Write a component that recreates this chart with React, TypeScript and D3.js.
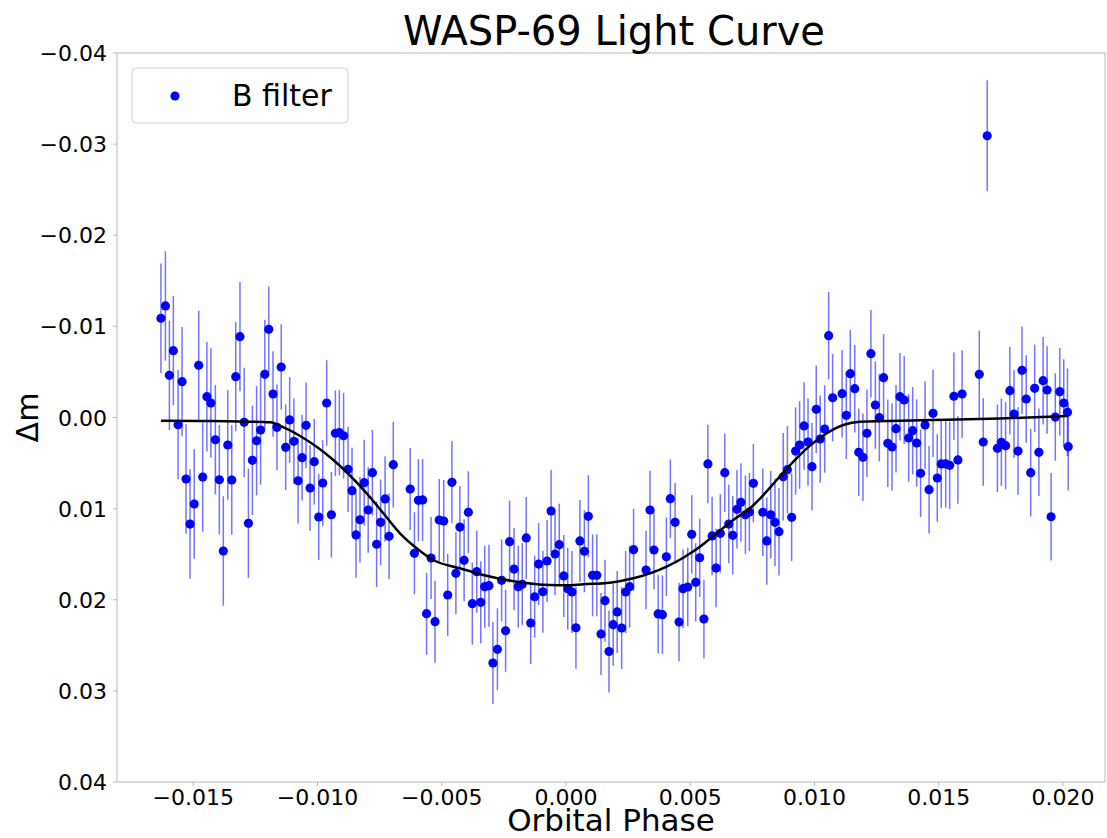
import React from "react";
import * as d3 from "d3";

// Observed points (orbital phase, Δm, 1σ error)
const phase = [
  -0.0163, -0.01612, -0.01596, -0.0158, -0.01561, -0.01545, -0.01529, -0.01513, -0.01496, -0.01478,
  -0.01462, -0.01445, -0.01429, -0.01411, -0.01395, -0.01379, -0.01361, -0.01345, -0.01329, -0.01312,
  -0.01295, -0.01278, -0.01262, -0.01245, -0.01229, -0.01212, -0.01196, -0.01179, -0.01163, -0.01146,
  -0.01128, -0.01112, -0.01095, -0.01078, -0.01062, -0.01046, -0.0103, -0.01013, -0.00995, -0.00979,
  -0.00963, -0.00944, -0.00928, -0.00912, -0.00895, -0.00877, -0.00861, -0.00845, -0.00829, -0.00812,
  -0.00796, -0.00779, -0.00762, -0.00746, -0.00728, -0.00712, -0.00695, -0.00627, -0.0061, -0.00594,
  -0.00577, -0.00561, -0.00543, -0.00527, -0.0051, -0.00492, -0.00476, -0.00459, -0.00443, -0.00427,
  -0.0041, -0.00393, -0.00377, -0.00359, -0.00343, -0.00327, -0.0031, -0.00294, -0.00276, -0.00259,
  -0.00243, -0.00227, -0.00209, -0.00192, -0.00176, -0.0016, -0.00142, -0.00126, -0.0011, -0.00093,
  -0.00076, -0.0006, -0.00044, -0.00027, -0.00009, 0.00007, 0.00024, 0.0004, 0.00056, 0.00074,
  0.0009, 0.00107, 0.00124, 0.00141, 0.00157, 0.00173, 0.0019, 0.00206, 0.00224, 0.0024,
  0.00256, 0.00272, 0.00322, 0.00338, 0.00354, 0.00371, 0.00388, 0.00404, 0.0042, 0.00439,
  0.00455, 0.00471, 0.0049, 0.00506, 0.00522, 0.00538, 0.00555, 0.00571, 0.00588, 0.00604,
  0.00621, 0.00639, 0.00655, 0.00671, 0.00688, 0.00704, 0.00722, 0.00738, 0.00754, 0.00792,
  0.00808, 0.00824, 0.00841, 0.00857, 0.00874, 0.00891, 0.00908, 0.00924, 0.0094, 0.00958,
  0.00974, 0.0099, 0.01007, 0.01023, 0.01041, 0.01057, 0.01073, 0.01111, 0.01128, 0.01144,
  0.01162, 0.01178, 0.01195, 0.01211, 0.01227, 0.01245, 0.01261, 0.01278, 0.01295, 0.01312,
  0.01328, 0.01344, 0.01361, 0.01379, 0.01395, 0.01411, 0.01427, 0.01445, 0.01461, 0.01477,
  0.01494, 0.0151, 0.01528, 0.01544, 0.01561, 0.01577, 0.01594, 0.01663, 0.01679, 0.01695,
  0.01736, 0.01752, 0.01769, 0.01786, 0.01803, 0.01819, 0.01835, 0.01852, 0.0187, 0.01886,
  0.01903, 0.0192, 0.01936, 0.01952, 0.01969, 0.01987, 0.02003, 0.02018, 0.02021,
];

const dm = [
  -0.01089, -0.01224, -0.00463, -0.00733, 0.00079, -0.00393, 0.00675, 0.01169, 0.00949, -0.00573,
  0.00653, -0.00228, -0.00159, 0.00244, 0.00683, 0.01465, 0.00302, 0.00686, -0.00448, -0.00887,
  0.00053, 0.01161, 0.0047, 0.00255, 0.00137, -0.00474, -0.00968, -0.00258, 0.00108, -0.00554,
  0.00327, 0.00027, 0.00261, 0.00694, 0.00441, 0.00086, 0.00774, 0.00485, 0.01092, 0.00719,
  -0.00159, 0.01067, 0.00173, 0.00167, 0.002, 0.00568, 0.00803, 0.01289, 0.01122, 0.00715,
  0.01015, 0.00606, 0.01391, 0.0115, 0.00894, 0.01304, 0.00518, 0.00785, 0.0149, 0.00909,
  0.00905, 0.02153, 0.01542, 0.02241, 0.01125, 0.01136, 0.01948, 0.00711, 0.0171, 0.01202,
  0.01567, 0.0104, 0.02043, 0.01692, 0.02028, 0.01857, 0.01846, 0.02694, 0.02544, 0.01787,
  0.0234, 0.01363, 0.01663, 0.01857, 0.0183, 0.01322, 0.02255, 0.01967, 0.01608, 0.01912,
  0.01575, 0.01026, 0.01498, 0.01396, 0.01739, 0.01879, 0.01915, 0.02307, 0.01355, 0.01468,
  0.01084, 0.01732, 0.01732, 0.02376, 0.0201, 0.02568, 0.02274, 0.02134, 0.0231, 0.01915,
  0.01857, 0.01451, 0.01674, 0.01015, 0.01454, 0.02156, 0.02164, 0.01528, 0.00891, 0.0115,
  0.02244, 0.01879, 0.0186, 0.01282, 0.01809, 0.01539, 0.02211, 0.0051, 0.013, 0.01652,
  0.01271, 0.00606, 0.01169, 0.01293, 0.01007, 0.00931, 0.01067, 0.01037, 0.00722, 0.0104,
  0.01355, 0.01067, 0.0115, 0.01253, 0.0065, 0.00573, 0.01095, 0.00368, 0.00302, 0.00093,
  0.00269, 0.0054, -0.0009, 0.00236, 0.00126, -0.00898, -0.00217, -0.00261, -0.00024, -0.00481,
  -0.00316, 0.00382, 0.00437, 0.00173, -0.007, -0.00137, 0.00002, -0.00437, 0.00283, 0.00324,
  0.00123, -0.00228, -0.00192, 0.00225, 0.00145, 0.0028, 0.00612, 0.00082, 0.00792, -0.00046,
  0.00664, 0.0051, 0.0051, 0.00525, -0.00233, 0.00466, -0.00258, -0.00474, 0.00269, -0.03092,
  0.00338, 0.00272, 0.00309, -0.00294, -0.00038, 0.00368, -0.00518, -0.00203, 0.00606, -0.0032,
  0.00382, -0.00404, -0.00302, 0.01089, -0.00005, -0.00283, -0.00159, -0.00057, 0.0032,
];

const err = [
  0.006, 0.006, 0.006, 0.006, 0.006, 0.006, 0.006, 0.006, 0.006, 0.006,
  0.006, 0.006, 0.006, 0.006, 0.006, 0.006, 0.006, 0.006, 0.006, 0.006,
  0.006, 0.006, 0.006, 0.006, 0.006, 0.006, 0.0047, 0.0047, 0.0047, 0.0047,
  0.0047, 0.0047, 0.0047, 0.0047, 0.0047, 0.0047, 0.0047, 0.0047, 0.0047, 0.0047,
  0.0047, 0.0047, 0.0047, 0.0047, 0.0047, 0.0047, 0.0047, 0.0047, 0.0047, 0.0047,
  0.0047, 0.0047, 0.0047, 0.0047, 0.0047, 0.0047, 0.0047, 0.0045, 0.0045, 0.0045,
  0.0045, 0.0045, 0.0045, 0.0045, 0.0045, 0.0045, 0.0045, 0.0045, 0.0045, 0.0045,
  0.0045, 0.0045, 0.0045, 0.0045, 0.0045, 0.0045, 0.0045, 0.0045, 0.0045, 0.0045,
  0.0045, 0.0045, 0.0045, 0.0045, 0.0045, 0.0045, 0.0045, 0.0045, 0.0045, 0.0045,
  0.0045, 0.0045, 0.0045, 0.0045, 0.0045, 0.0045, 0.0045, 0.0045, 0.0045, 0.0045,
  0.0045, 0.0045, 0.0045, 0.0045, 0.0045, 0.0045, 0.0045, 0.0045, 0.0045, 0.0045,
  0.0045, 0.0045, 0.0043, 0.0043, 0.0043, 0.0043, 0.0043, 0.0043, 0.0043, 0.0043,
  0.0043, 0.0043, 0.0043, 0.0043, 0.0043, 0.0043, 0.0043, 0.0043, 0.0043, 0.0043,
  0.0043, 0.0043, 0.0043, 0.0043, 0.0043, 0.0043, 0.0043, 0.0043, 0.0043, 0.0048,
  0.0048, 0.0048, 0.0048, 0.0048, 0.0048, 0.0048, 0.0048, 0.0048, 0.0048, 0.0048,
  0.0048, 0.0048, 0.0048, 0.0048, 0.0048, 0.0048, 0.0048, 0.0048, 0.0048, 0.0048,
  0.0048, 0.0048, 0.0048, 0.0048, 0.0048, 0.0048, 0.0048, 0.0048, 0.0048, 0.0048,
  0.0048, 0.0048, 0.0048, 0.0048, 0.0048, 0.0048, 0.0048, 0.0048, 0.0048, 0.0048,
  0.0048, 0.0048, 0.0048, 0.0048, 0.0048, 0.0048, 0.0048, 0.0048, 0.0048, 0.0061,
  0.0048, 0.0048, 0.0048, 0.0048, 0.0048, 0.0048, 0.0048, 0.0048, 0.0048, 0.0048,
  0.0048, 0.0048, 0.0048, 0.0048, 0.0048, 0.0048, 0.0048, 0.0048, 0.0048,
];

// Transit model curve
const modelPhase = [
  -0.0163, -0.01473, -0.01312, -0.01191, -0.01131, -0.0107, -0.00936, -0.00802, -0.00735, -0.00668,
  -0.00601, -0.00534, -0.00427, -0.00333, -0.00198, -0.00064, 0.00003, 0.0007, 0.00177, 0.00271,
  0.00405, 0.00472, 0.00539, 0.00606, 0.00673, 0.0074, 0.00781, 0.00848, 0.00915, 0.00982,
  0.01049, 0.01116, 0.01183, 0.01425, 0.01746, 0.02021,
];
const modelDm = [
  0.00035, 0.00038, 0.00044, 0.00053, 0.00115, 0.00203, 0.00466, 0.00832, 0.01051, 0.01271,
  0.01435, 0.01564, 0.01655, 0.01728, 0.01802, 0.01838, 0.01841, 0.0183, 0.01813, 0.01765,
  0.01637, 0.01539, 0.01418, 0.01271, 0.01125, 0.00996, 0.00889, 0.00686, 0.00485, 0.00309,
  0.00173, 0.00082, 0.00046, 0.00031, 0.00011, -0.00016,
];

const xTicks = [-0.015, -0.01, -0.005, 0, 0.005, 0.01, 0.015, 0.02];
const yTicks = [-0.04, -0.03, -0.02, -0.01, 0, 0.01, 0.02, 0.03, 0.04];

const title = "WASP-69 Light Curve";
const xLabel = "Orbital Phase";
const yLabel = "Δm";
const legendLabel = "B filter";

const W = 1107;
const H = 838;
const L = 117, R = 1105, T = 53, B = 782;
const FONT = "'DejaVu Sans', sans-serif";
const SPINE = "#b8b8b8";

export default function App() {
  const x = d3.scaleLinear().domain([-0.018068, 0.02169]).range([L, R]);
  const y = d3.scaleLinear().domain([-0.04, 0.04]).range([T, B]);
  const fx = d3.format(".3f");
  const fy = d3.format(".2f");

  const line = d3
    .line<number>()
    .x((_, i) => x(modelPhase[i]))
    .y((d) => y(d))
    .curve(d3.curveMonotoneX);

  return (
    <svg
      width={W}
      height={H}
      style={{ position: "absolute", left: 0, top: 0, background: "#fff" }}
      fontFamily={FONT}
    >
      <rect x={0} y={0} width={W} height={H} fill="#fff" />
      {/* error bars */}
      <g stroke="#0000ff" strokeOpacity={0.55} strokeWidth={1.5}>
        {phase.map((p, i) => (
          <line
            key={"e" + i}
            x1={x(p)}
            x2={x(p)}
            y1={y(dm[i] - err[i])}
            y2={y(dm[i] + err[i])}
          />
        ))}
      </g>
      {/* points */}
      <g fill="#0000ff">
        {phase.map((p, i) => (
          <circle key={"p" + i} cx={x(p)} cy={y(dm[i])} r={4.6} />
        ))}
      </g>
      {/* model */}
      <path d={line(modelDm) || ""} fill="none" stroke="#000" strokeWidth={2.5} />

      {/* frame */}
      <rect x={L} y={T} width={R - L} height={B - T} fill="none" stroke={SPINE} strokeWidth={1} />

      {/* x ticks */}
      {xTicks.map((t) => (
        <g key={"xt" + t}>
          <line x1={x(t)} x2={x(t)} y1={B} y2={B + 4} stroke={SPINE} />
          <text x={x(t)} y={805} fontSize={22} textAnchor="middle" fill="#000">
            {fx(t)}
          </text>
        </g>
      ))}
      {/* y ticks */}
      {yTicks.map((t) => (
        <g key={"yt" + t}>
          <line x1={L - 4} x2={L} y1={y(t)} y2={y(t)} stroke={SPINE} />
          <text x={107} y={y(t) + 8} fontSize={22} textAnchor="end" fill="#000">
            {fy(t)}
          </text>
        </g>
      ))}

      <text x={(L + R) / 2} y={831} fontSize={31} textAnchor="middle" fill="#000">
        {xLabel}
      </text>
      <text
        transform={`translate(38,${(T + B) / 2}) rotate(-90)`}
        fontSize={30}
        textAnchor="middle"
        fill="#000"
      >
        {yLabel}
      </text>
      <text x={(L + R) / 2 + 3} y={45} fontSize={40} textAnchor="middle" fill="#000">
        {title}
      </text>

      {/* legend */}
      <rect x={132} y={68} width={216} height={55} rx={4} fill="#fff" fillOpacity={0.8} stroke="#d0d0d0" />
      <circle cx={175} cy={96} r={4.6} fill="#0000ff" />
      <text x={232} y={106} fontSize={30} fill="#000">
        {legendLabel}
      </text>
    </svg>
  );
}
